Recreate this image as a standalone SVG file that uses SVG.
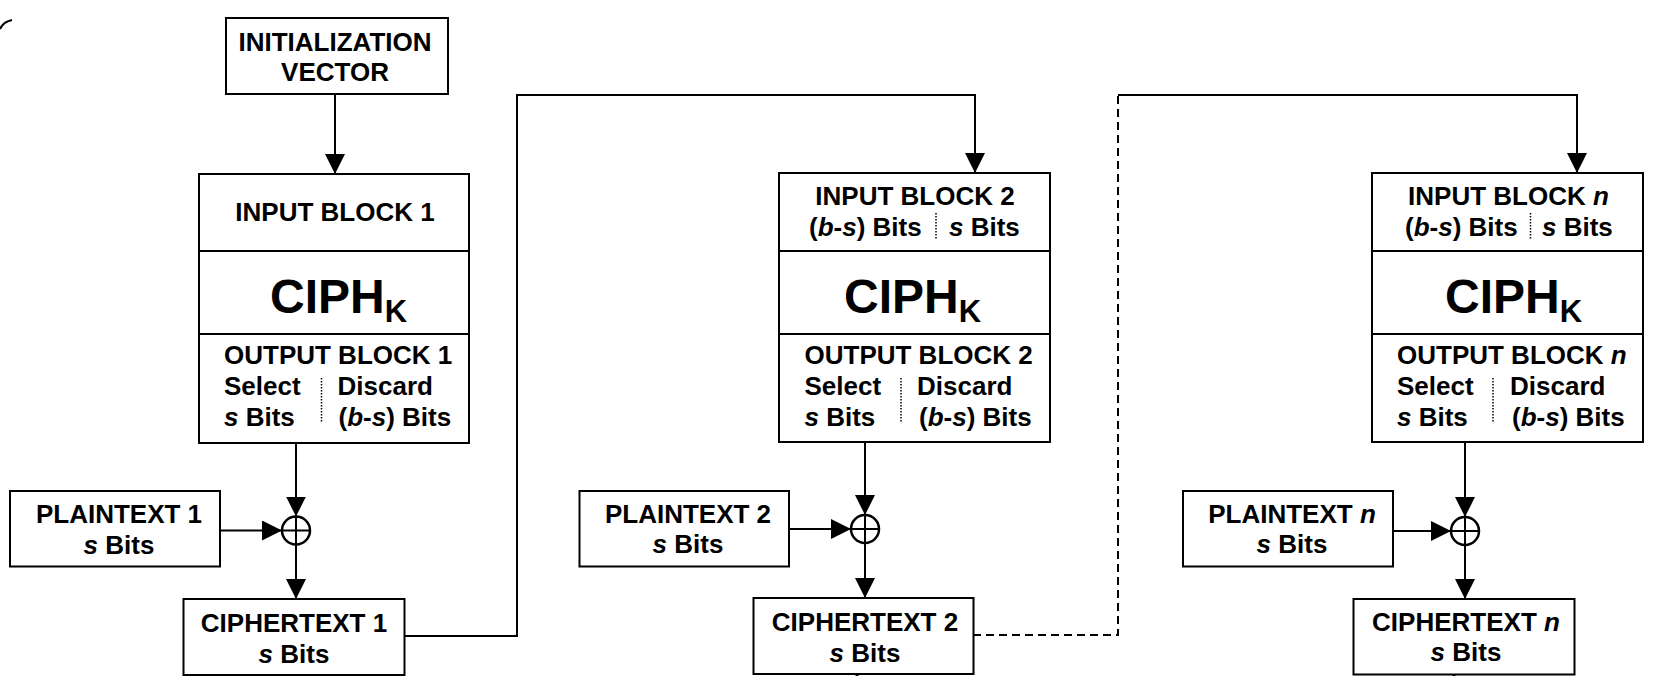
<svg xmlns="http://www.w3.org/2000/svg" width="1664" height="676" viewBox="0 0 1664 676">
<style>
.box{fill:#fff;stroke:#000;stroke-width:2}
.ln{fill:none;stroke:#000;stroke-width:2}
.dash{fill:none;stroke:#000;stroke-width:2;stroke-dasharray:8 5}
.dot{stroke:#000;stroke-width:1.5;stroke-dasharray:1.5 1.5}
text{font-family:"Liberation Sans",Arial,Helvetica,sans-serif;font-weight:bold;font-size:26px;fill:#000}
.c{text-anchor:middle}
.big{font-size:48px}
.i{font-style:italic}
.xor{fill:#fff;stroke:#000;stroke-width:2.5}
</style>
<defs>
<marker id="ah" markerUnits="userSpaceOnUse" markerWidth="20" markerHeight="20" refX="20" refY="10" orient="auto">
<path d="M0,0 L20,10 L0,20 z" fill="#000"/>
</marker>
</defs>
<rect width="1664" height="676" fill="#fff"/>
<path d="M0,29 Q3,22 12,20" class="ln"/>

<g id="connectors">
<line x1="335" y1="94" x2="335" y2="174" class="ln" marker-end="url(#ah)"/>
<line x1="296" y1="443" x2="296" y2="516.5" class="ln" marker-end="url(#ah)"/>
<line x1="220" y1="530.5" x2="282" y2="530.5" class="ln" marker-end="url(#ah)"/>
<line x1="296" y1="544.5" x2="296" y2="599" class="ln" marker-end="url(#ah)"/>
<polyline points="404,636 517,636 517,95 975,95 975,173" class="ln" marker-end="url(#ah)"/>
<line x1="865" y1="442" x2="865" y2="515" class="ln" marker-end="url(#ah)"/>
<line x1="789" y1="529" x2="851" y2="529" class="ln" marker-end="url(#ah)"/>
<line x1="865" y1="543" x2="865" y2="598" class="ln" marker-end="url(#ah)"/>
<polyline points="973,635 1118,635 1118,95" class="dash"/>
<polyline points="1118,95 1577,95 1577,173" class="ln" marker-end="url(#ah)"/>
<line x1="1465" y1="442" x2="1465" y2="517" class="ln" marker-end="url(#ah)"/>
<line x1="1393" y1="531" x2="1451" y2="531" class="ln" marker-end="url(#ah)"/>
<line x1="1465" y1="545" x2="1465" y2="599" class="ln" marker-end="url(#ah)"/>
<line x1="282" y1="675" x2="282" y2="676" stroke="#000" stroke-width="3"/>
<line x1="857" y1="674" x2="857" y2="676" stroke="#000" stroke-width="3"/>
<line x1="1454" y1="675" x2="1454" y2="676" stroke="#000" stroke-width="3"/>
</g>

<g id="iv">
<rect x="226" y="18" width="222" height="76" class="box"/>
<text x="335" y="51" class="c">INITIALIZATION</text>
<text x="335" y="81" class="c">VECTOR</text>
</g>

<g id="block1">
<rect x="199" y="174" width="270" height="269" class="box"/>
<line x1="199" y1="251" x2="469" y2="251" class="ln"/>
<line x1="199" y1="334" x2="469" y2="334" class="ln"/>
<text x="335" y="221" class="c">INPUT BLOCK 1</text>
<text x="270" y="313" class="big">CIPH<tspan font-size="31" dy="9">K</tspan></text>
<text x="224" y="364">OUTPUT BLOCK 1</text>
<text x="224" y="395">Select</text>
<text x="224" y="425.5"><tspan class="i">s</tspan> Bits</text>
<text x="337.5" y="395">Discard</text>
<text x="338.5" y="425.5">(<tspan class="i">b</tspan>-<tspan class="i">s</tspan>) Bits</text>
<line x1="321.5" y1="378" x2="321.5" y2="423" class="dot"/>
</g>

<g id="plaintext1">
<rect x="10" y="491" width="210" height="75.5" class="box"/>
<text x="119" y="523" class="c">PLAINTEXT 1</text>
<text x="119" y="554" class="c"><tspan class="i">s</tspan> Bits</text>
</g>

<g id="xor1">
<circle cx="296" cy="530.5" r="14" class="xor"/>
<line x1="282" y1="530.5" x2="310" y2="530.5" class="ln"/>
<line x1="296" y1="516.5" x2="296" y2="544.5" class="ln"/>
</g>

<g id="ciphertext1">
<rect x="183.5" y="599" width="221" height="76" class="box"/>
<text x="294" y="632" class="c">CIPHERTEXT 1</text>
<text x="294" y="663" class="c"><tspan class="i">s</tspan> Bits</text>
</g>

<g id="block2">
<rect x="779" y="173" width="271" height="269" class="box"/>
<line x1="779" y1="251" x2="1050" y2="251" class="ln"/>
<line x1="779" y1="334" x2="1050" y2="334" class="ln"/>
<text x="915" y="205" class="c">INPUT BLOCK 2</text>
<text x="809" y="236">(<tspan class="i">b</tspan>-<tspan class="i">s</tspan>) Bits</text>
<line x1="936" y1="213" x2="936" y2="239" class="dot"/>
<text x="949" y="236"><tspan class="i">s</tspan> Bits</text>
<text x="844" y="313" class="big">CIPH<tspan font-size="31" dy="9">K</tspan></text>
<text x="804.5" y="364">OUTPUT BLOCK 2</text>
<text x="804.5" y="395">Select</text>
<text x="804.5" y="425.5"><tspan class="i">s</tspan> Bits</text>
<text x="917" y="395">Discard</text>
<text x="919" y="425.5">(<tspan class="i">b</tspan>-<tspan class="i">s</tspan>) Bits</text>
<line x1="901" y1="378" x2="901" y2="423" class="dot"/>
</g>

<g id="plaintext2">
<rect x="579.5" y="491" width="209.5" height="75.5" class="box"/>
<text x="688" y="523" class="c">PLAINTEXT 2</text>
<text x="688" y="553" class="c"><tspan class="i">s</tspan> Bits</text>
</g>

<g id="xor2">
<circle cx="865" cy="529" r="14" class="xor"/>
<line x1="851" y1="529" x2="879" y2="529" class="ln"/>
<line x1="865" y1="515" x2="865" y2="543" class="ln"/>
</g>

<g id="ciphertext2">
<rect x="753.5" y="598" width="220" height="76" class="box"/>
<text x="865" y="631" class="c">CIPHERTEXT 2</text>
<text x="865" y="662" class="c"><tspan class="i">s</tspan> Bits</text>
</g>

<g id="blockn">
<rect x="1372" y="173" width="271" height="269" class="box"/>
<line x1="1372" y1="251" x2="1643" y2="251" class="ln"/>
<line x1="1372" y1="334" x2="1643" y2="334" class="ln"/>
<text x="1508.5" y="205" class="c">INPUT BLOCK <tspan class="i">n</tspan></text>
<text x="1405" y="236">(<tspan class="i">b</tspan>-<tspan class="i">s</tspan>) Bits</text>
<line x1="1530.5" y1="213" x2="1530.5" y2="239" class="dot"/>
<text x="1542" y="236"><tspan class="i">s</tspan> Bits</text>
<text x="1445" y="313" class="big">CIPH<tspan font-size="31" dy="9">K</tspan></text>
<text x="1397" y="364">OUTPUT BLOCK <tspan class="i">n</tspan></text>
<text x="1397" y="395">Select</text>
<text x="1397" y="425.5"><tspan class="i">s</tspan> Bits</text>
<text x="1510" y="395">Discard</text>
<text x="1512" y="425.5">(<tspan class="i">b</tspan>-<tspan class="i">s</tspan>) Bits</text>
<line x1="1493" y1="378" x2="1493" y2="423" class="dot"/>
</g>

<g id="plaintextn">
<rect x="1183" y="491" width="210" height="75.5" class="box"/>
<text x="1292" y="523" class="c">PLAINTEXT <tspan class="i">n</tspan></text>
<text x="1292" y="553" class="c"><tspan class="i">s</tspan> Bits</text>
</g>

<g id="xorn">
<circle cx="1465" cy="531" r="14" class="xor"/>
<line x1="1451" y1="531" x2="1479" y2="531" class="ln"/>
<line x1="1465" y1="517" x2="1465" y2="545" class="ln"/>
</g>

<g id="ciphertextn">
<rect x="1353.5" y="599" width="221" height="75.5" class="box"/>
<text x="1466" y="631" class="c">CIPHERTEXT <tspan class="i">n</tspan></text>
<text x="1466" y="661" class="c"><tspan class="i">s</tspan> Bits</text>
</g>
</svg>
